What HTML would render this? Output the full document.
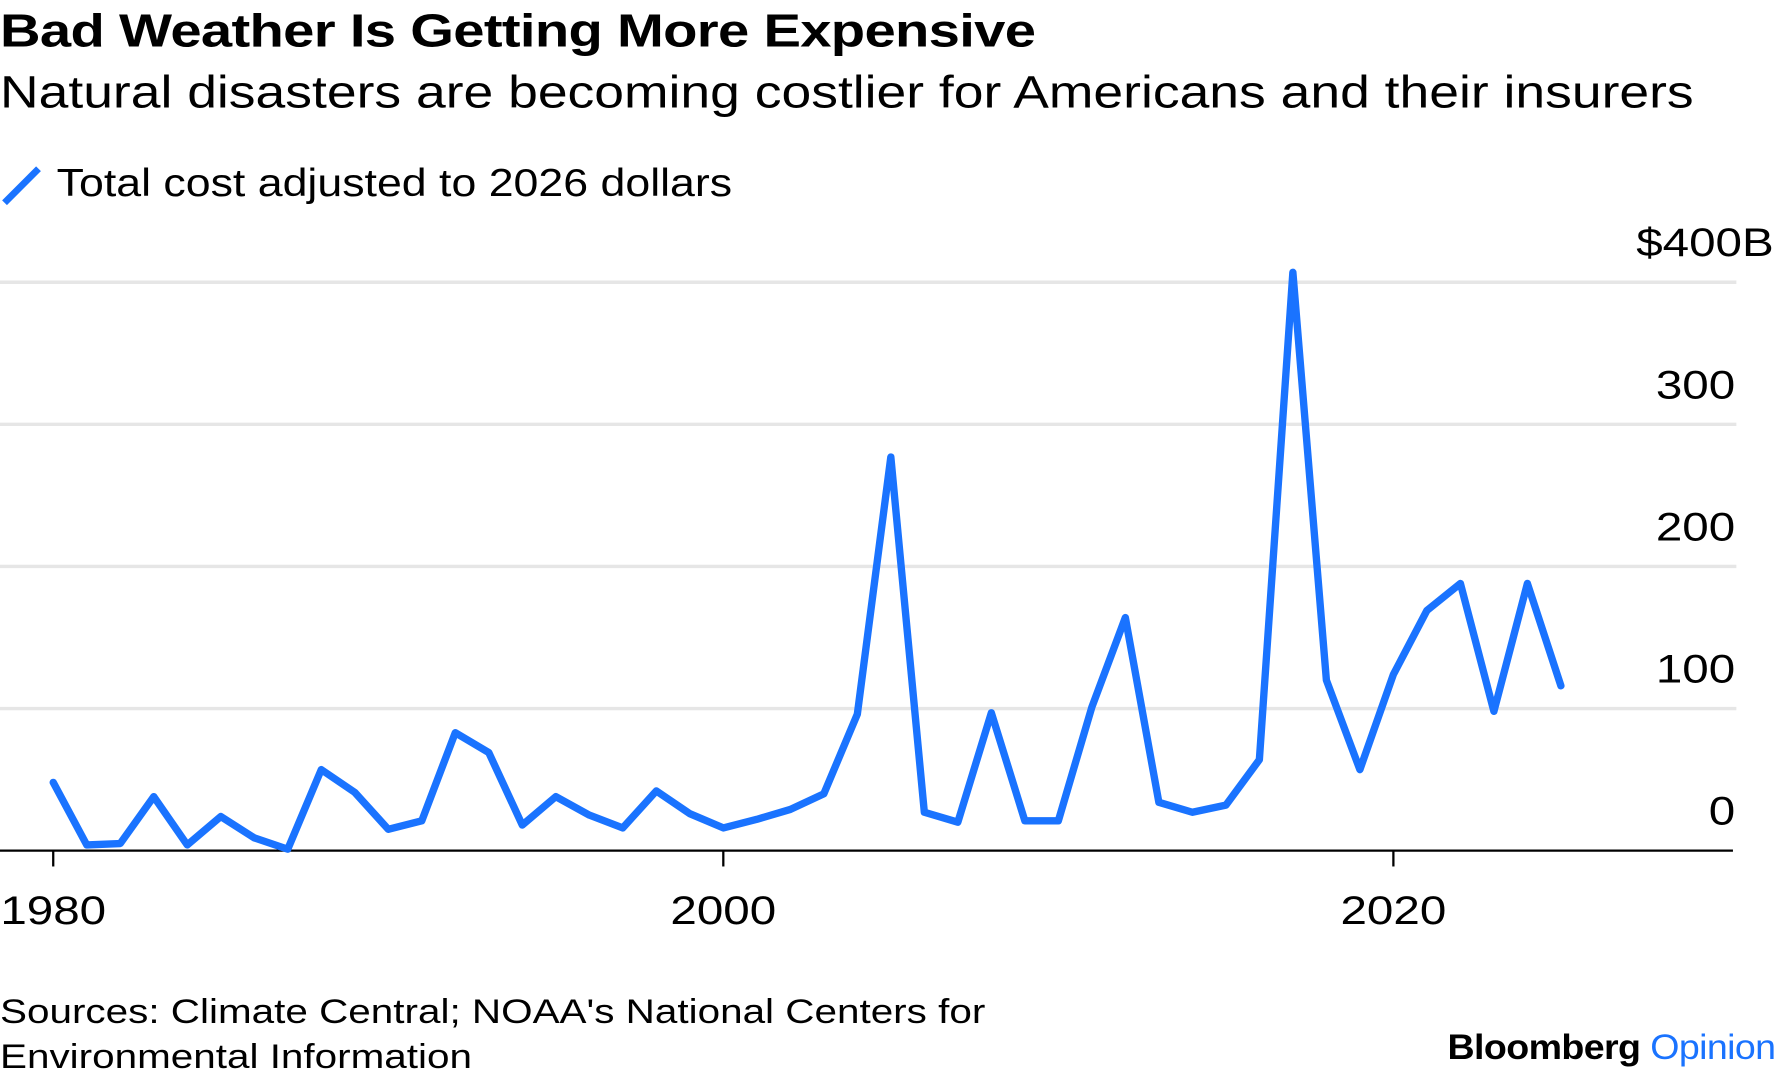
<!DOCTYPE html>
<html><head><meta charset="utf-8"><style>
html,body{margin:0;padding:0;background:#fff;overflow:hidden}
#wrap{width:1568px;height:954px;transform:scale(1.13265);transform-origin:0 0;position:relative;font-family:"Liberation Sans",sans-serif;color:#000}
.t{position:absolute;white-space:nowrap;transform-origin:0 0}
</style></head><body>
<div id="wrap">
<div class="t" style="left:0;top:4px;font-size:41px;font-weight:bold;letter-spacing:-0.5px;transform:scaleX(1.21)">Bad Weather Is Getting More Expensive</div>
<div class="t" style="left:0;top:60px;font-size:40px;transform:scaleX(1.18)">Natural disasters are becoming costlier for Americans and their insurers</div>
<div style="position:absolute;left:0;top:145px">
<svg width="40" height="40" style="position:absolute;left:0;top:0"><line x1="4" y1="34" x2="34" y2="4" stroke="#1a73ff" stroke-width="6"/></svg>
<div class="t" style="left:50px;top:-2px;font-size:34px;transform:scaleX(1.16)">Total cost adjusted to 2026 dollars</div>
</div>
<svg id="chart" width="1568" height="954" style="position:absolute;left:0;top:0"></svg>
<div class="t" style="left:0;top:874px;font-size:30px;line-height:40px;transform:scaleX(1.19)">Sources: Climate Central; NOAA's National Centers for<br>Environmental Information</div>
<div class="t" style="left:1278px;top:907px;font-size:31px;font-weight:bold;letter-spacing:-0.5px;transform:scaleX(1.07)">Bloomberg <span style="color:#1a73ff;font-weight:normal">Opinion</span></div>
</div>
<script>
const years=[1980,1981,1982,1983,1984,1985,1986,1987,1988,1989,1990,1991,1992,1993,1994,1995,1996,1997,1998,1999,2000,2001,2002,2003,2004,2005,2006,2007,2008,2009,2010,2011,2012,2013,2014,2015,2016,2017,2018,2019,2020,2021,2022,2023,2024,2025];
const costs=[48,4,5,38,4,24,9,1,57,41,15,21,83,69,18,38,25,16,42,26,16,22,29,40,96,277,27,20,97,21,21,101,164,34,27,32,64,407,120,57,124,169,188,98,188,116];
const yTicks=[0,100,200,300,400];
const yTickLabels=["0","100","200","300","$400B"];
const xTicks=[1980,2000,2020];
const xTickLabels=["1980","2000","2020"];
const NS="http://www.w3.org/2000/svg";
const svg=document.getElementById('chart');
const x=v=>47+(v-1980)*29.58;
const y=v=>751-v*1.2545;
function mk(t,a){const e=document.createElementNS(NS,t);for(const k in a)e.setAttribute(k,a[k]);svg.appendChild(e);return e;}
function widen(el){const w=el.getComputedTextLength();el.setAttribute('textLength',w*1.2);el.setAttribute('lengthAdjust','spacingAndGlyphs');}
yTicks.forEach((t,i)=>{
 if(t>0){const g=mk('line',{x1:0,x2:1533,y1:y(t),y2:y(t),stroke:'#e6e6e6','stroke-width':3});
 
 }
 const l=mk('text',{x:i==4?1566:1532,y:y(t)-23,'text-anchor':'end','font-size':35,'font-family':'Liberation Sans, sans-serif'});
 l.textContent=yTickLabels[i];
 
 
 widen(l);
});
const ax=mk('line',{x1:0,x2:1530,y1:751,y2:751,stroke:'#000','stroke-width':2});


xTicks.forEach((t,i)=>{
 const k=mk('line',{x1:x(t),x2:x(t),y1:751,y2:765,stroke:'#000','stroke-width':2});
 
 
 const l=mk('text',{x:x(t),y:816,'text-anchor':'middle','font-size':35,'font-family':'Liberation Sans, sans-serif'});
 l.textContent=xTickLabels[i];
 
 
 widen(l);
});
const p=mk('polyline',{points:years.map((yr,i)=>x(yr)+','+y(costs[i])).join(' '),fill:'none',stroke:'#1a73ff','stroke-width':6.5,'stroke-linejoin':'round','stroke-linecap':'round'});


</script>
</body></html>
